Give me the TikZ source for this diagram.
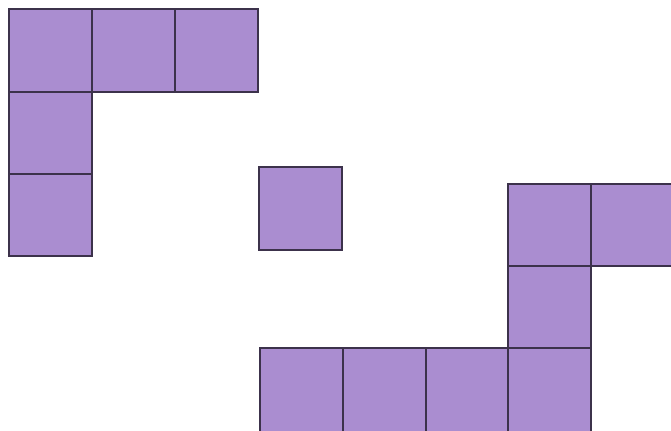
\documentclass[tikz,border=0pt]{standalone}
\definecolor{tile}{RGB}{170,141,208}
\definecolor{edge}{RGB}{60,50,75}
\tikzset{tilebox/.style={fill=tile,draw=edge,line width=0.8pt}}
\begin{document}
\begin{tikzpicture}[x=0.75pt,y=-0.75pt]
\useasboundingbox (0,0) rectangle (671,430);
\clip (0,0) rectangle (671,430);
% top-left group
\draw[tilebox] (9,9) rectangle (92,92);
\draw[tilebox] (92,9) rectangle (175,92);
\draw[tilebox] (175,9) rectangle (258,92);
\draw[tilebox] (9,92) rectangle (92,174);
\draw[tilebox] (9,174) rectangle (92,256);
% middle single
\draw[tilebox] (259,167) rectangle (342,250);
% right group
\draw[tilebox] (508,184) rectangle (591,266);
\draw[tilebox] (591,184) rectangle (674,266);
\draw[tilebox] (508,266) rectangle (591,348);
\draw[tilebox] (260,348) rectangle (343,433);
\draw[tilebox] (343,348) rectangle (426,433);
\draw[tilebox] (426,348) rectangle (508,433);
\draw[tilebox] (508,348) rectangle (591,433);
\end{tikzpicture}
\end{document}
